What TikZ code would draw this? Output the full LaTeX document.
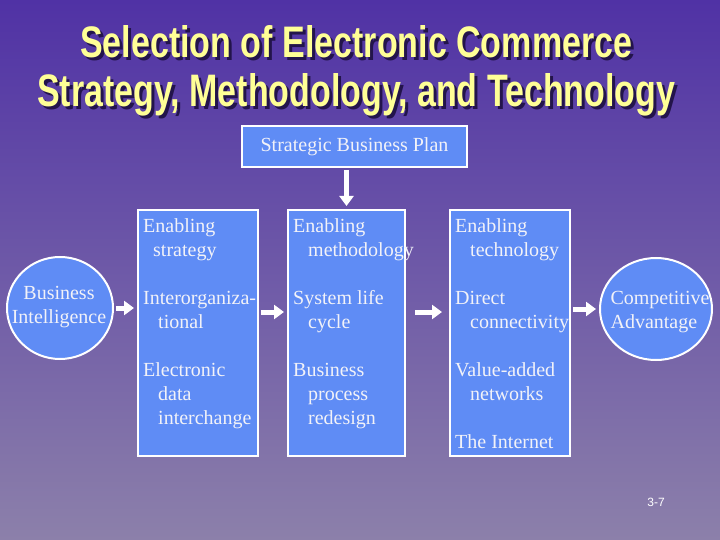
\documentclass[tikz,border=0pt]{standalone}
\usepackage{fontspec}
\setmainfont{Liberation Serif}
\newfontfamily\titlefont{Liberation Sans}
\newfontfamily\pagefont{Liberation Sans}
\usepackage{graphicx}
\usetikzlibrary{shapes.geometric,arrows.meta}
\definecolor{bgtop}{RGB}{80,50,165}
\definecolor{bgbottom}{RGB}{140,128,170}
\definecolor{boxblue}{RGB}{95,140,245}
\definecolor{titleyellow}{RGB}{255,255,150}
\definecolor{titleshadow}{RGB}{35,20,75}
\definecolor{textwhite}{RGB}{242,242,248}
\newcommand{\titlelineone}{\resizebox{552pt}{32pt}{\titlefont\bfseries Selection of Electronic Commerce}}
\newcommand{\titlelinetwo}{\resizebox{638pt}{33pt}{\titlefont\bfseries Strategy, Methodology, and Technology}}
\tikzset{
  bluebox/.style={draw=white, line width=2pt, fill=boxblue, inner sep=0pt, text=textwhite, font=\fontsize{20}{24}\selectfont},
  bluecirc/.style={ellipse, draw=white, line width=2pt, fill=boxblue, inner sep=0pt},
  circtext/.style={inner sep=0pt, text=textwhite, font=\fontsize{20}{24}\selectfont},
  boxtext/.style={anchor=north west, inner sep=0pt, align=left, text=textwhite, font=\fontsize{20}{24}\selectfont},
  titletext/.style={anchor=base west, inner sep=0pt},
  flowarrow/.style={white, line width=5pt, -{Triangle[length=10pt,width=14pt]}, shorten <=2pt, shorten >=3pt}
}
\begin{document}
\begin{tikzpicture}[x=1pt, y=-1pt]
\useasboundingbox (0,0) rectangle (720,540);
\shade[top color=bgtop, bottom color=bgbottom] (0,0) rectangle (720,540);

% title
\node[titletext, text=titleshadow] (titleoneshadow) at (83,61) {\titlelineone};
\node[titletext, text=titleyellow] (titleone) at (80,58) {\titlelineone};
\node[titletext, text=titleshadow] (titletwoshadow) at (40,110) {\titlelinetwo};
\node[titletext, text=titleyellow] (titletwo) at (37,107) {\titlelinetwo};

% plan
\node[bluebox, minimum width=225pt, minimum height=41pt] (plan) at (354.5,146.5) {Strategic Business Plan};

% columns
\node[bluebox, minimum width=120pt, minimum height=246pt] (strat) at (198,333) {};
\node[bluebox, minimum width=117pt, minimum height=246pt] (meth) at (346.5,333) {};
\node[bluebox, minimum width=120pt, minimum height=246pt] (tech) at (510,333) {};

\node[boxtext] (strattext) at ([xshift=6pt,yshift=-9pt]strat.north west)
  {Enabling\\\hspace*{10pt}strategy\\[24pt]Interorganiza-\\\hspace*{15pt}tional\\[24pt]Electronic\\\hspace*{15pt}data\\\hspace*{15pt}interchange};
\node[boxtext] (methtext) at ([xshift=6pt,yshift=-9pt]meth.north west)
  {Enabling\\\hspace*{15pt}methodology\\[24pt]System life\\\hspace*{15pt}cycle\\[24pt]Business\\\hspace*{15pt}process\\\hspace*{15pt}redesign};
\node[boxtext] (techtext) at ([xshift=6pt,yshift=-9pt]tech.north west)
  {Enabling\\\hspace*{15pt}technology\\[24pt]Direct\\\hspace*{15pt}connectivity\\[24pt]Value-added\\\hspace*{15pt}networks\\[24pt]The Internet};

% circles
\node[bluecirc, minimum width=106pt, minimum height=102pt] (intel) at (60,308) {};
\node[circtext, align=center] (inteltext) at (59,307) {Business\\Intelligence};
\node[bluecirc, minimum width=112pt, minimum height=102pt] (advan) at (656,309) {};
\node[circtext, align=left] (advantext) at (660,312) {Competitive\\Advantage};

% arrows
\draw[flowarrow] (meth.north |- plan.south) -- (meth.north);
\draw[flowarrow] (intel.east) -- (intel.east -| strat.west);
\draw[flowarrow] ([yshift=21pt]strat.east) -- ([yshift=21pt]meth.west);
\draw[flowarrow, shorten <=9pt, shorten >=7pt] ([yshift=21pt]meth.east) -- ([yshift=21pt]tech.west);
\draw[flowarrow] (tech.east |- advan.west) -- (advan.west);

\node[text=white, font=\pagefont\fontsize{12}{14}\selectfont] (pageno) at (656,502) {3-7};
\end{tikzpicture}
\end{document}
